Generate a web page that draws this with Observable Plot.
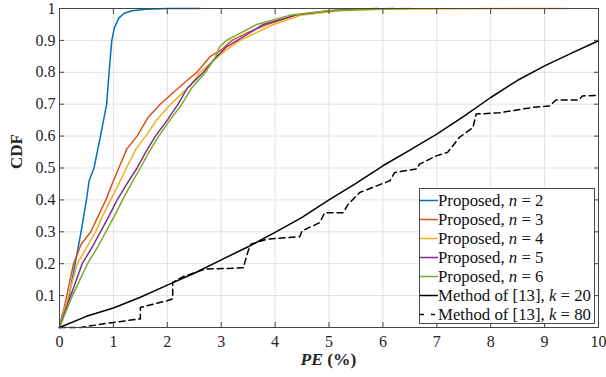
<!DOCTYPE html>
<html>
<head>
<meta charset="utf-8">
<script src="https://cdn.jsdelivr.net/npm/d3@7"></script>
<script src="https://cdn.jsdelivr.net/npm/@observablehq/plot@0.6"></script>
<style>
  body { margin: 0; background: #fff; }
  #wrap { position: relative; width: 606px; height: 377px; font-family: "Liberation Serif", "Times New Roman", serif; color: #262626; }
  #chart svg, #chart svg text { font-family: "Liberation Serif", "Times New Roman", serif !important; }
  #legend { position: absolute; left: 419px; top: 188px; width: 176px; height: 136px; background: #fff; border: 1px solid #4a4a4a; box-sizing: border-box; padding-top: 1.5px; }
  .row { display: flex; align-items: flex-start; height: 19px; font-size: 16.8px; line-height: 19px; white-space: nowrap; color: #111; }
  .row svg { flex: none; display: block; }
  #xlabel { position: absolute; left: 0; width: 657px; top: 352px; text-align: center; font-size: 17.5px; font-weight: bold; color: #262626; line-height: 15px; }
</style>
</head>
<body>
<div id="wrap">
  <div id="chart"></div>
  <div id="legend"></div>
  <div id="xlabel"><i>PE</i> (%)</div>
</div>
<script>
// ---- data ----
const xTicks = [0, 1, 2, 3, 4, 5, 6, 7, 8, 9, 10];
const yTicks = [0, 0.1, 0.2, 0.3, 0.4, 0.5, 0.6, 0.7, 0.8, 0.9, 1];

const seriesNames = ["n = 2", "n = 3", "n = 4", "n = 5", "n = 6", "k = 20", "k = 80"];
const seriesColors = ["#0072BD", "#D95319", "#EDB120", "#7E2F8E", "#77AC30", "#000000", "#000000"];

const n2X = [0, 0.05, 0.18, 0.29, 0.40, 0.50, 0.55, 0.64, 0.76, 0.875, 0.92, 0.97, 1.02, 1.1, 1.2, 1.35, 1.6, 2.0, 2.61];
const n2Y = [0, 0.04, 0.1, 0.2, 0.3, 0.4, 0.46, 0.5, 0.6, 0.7, 0.8, 0.9, 0.94, 0.97, 0.985, 0.993, 0.998, 1, 1];

const n3X = [0, 0.06, 0.135, 0.26, 0.4, 0.58, 0.72, 0.86, 1.0, 1.1, 1.25, 1.44, 1.65, 1.87, 2.1, 2.37, 2.55, 2.8, 3.0, 3.2, 3.5, 3.85, 4.4, 5.0, 5.6, 6.2];
const n3Y = [0, 0.04, 0.1, 0.2, 0.26, 0.3, 0.35, 0.4, 0.46, 0.5, 0.56, 0.6, 0.66, 0.7, 0.735, 0.775, 0.8, 0.85, 0.87, 0.9, 0.925, 0.95, 0.98, 0.993, 0.998, 1];

const n4X = [0, 0.08, 0.166, 0.33, 0.5, 0.67, 0.8, 0.95, 1.1, 1.24, 1.42, 1.6, 1.8, 2.06, 2.25, 2.43, 2.61, 2.95, 3.07, 3.35, 3.97, 4.5, 5.2, 6.0, 7.5, 9.4];
const n4Y = [0, 0.05, 0.1, 0.2, 0.25, 0.3, 0.35, 0.4, 0.45, 0.5, 0.56, 0.6, 0.65, 0.7, 0.73, 0.76, 0.8, 0.85, 0.867, 0.9, 0.95, 0.98, 0.993, 0.998, 0.9995, 1];

const n5X = [0, 0.1, 0.21, 0.42, 0.6, 0.76, 0.92, 1.07, 1.25, 1.44, 1.6, 1.78, 2.0, 2.2, 2.37, 2.67, 2.92, 3.1, 3.3, 3.78, 4.4, 5.0, 5.5, 5.9];
const n5Y = [0, 0.05, 0.1, 0.2, 0.25, 0.3, 0.35, 0.4, 0.45, 0.5, 0.55, 0.6, 0.65, 0.7, 0.75, 0.8, 0.85, 0.88, 0.9, 0.95, 0.98, 0.993, 0.998, 1];

const n6X = [0, 0.12, 0.24, 0.52, 0.7, 0.86, 1.02, 1.17, 1.33, 1.5, 1.66, 1.84, 2.05, 2.27, 2.45, 2.71, 2.9, 2.97, 3.1, 3.66, 4.3, 5.0, 5.8, 6.5];
const n6Y = [0, 0.05, 0.1, 0.2, 0.25, 0.3, 0.35, 0.4, 0.45, 0.5, 0.55, 0.6, 0.65, 0.7, 0.75, 0.8, 0.85, 0.88, 0.9, 0.95, 0.98, 0.993, 0.998, 1];

const k20X = [0, 0.5, 1.0, 1.5, 2.0, 2.5, 3.0, 3.5, 4.0, 4.5, 5.0, 5.5, 6.0, 6.5, 7.0, 7.5, 8.0, 8.5, 9.0, 9.5, 10];
const k20Y = [0, 0.035, 0.061, 0.095, 0.133, 0.17, 0.212, 0.253, 0.298, 0.345, 0.40, 0.452, 0.507, 0.556, 0.606, 0.662, 0.721, 0.775, 0.82, 0.86, 0.899];

const k80X = [0, 0.39, 0.76, 1.0, 1.5, 1.5, 2.0, 2.1, 2.1, 2.3, 2.7, 3.41, 3.5, 3.55, 3.85, 4.46, 4.5, 4.83, 4.92, 5.26, 5.36, 5.57, 5.88, 6.13, 6.22, 6.62, 6.68, 6.99, 7.2, 7.42, 7.67, 7.73, 8.16, 8.78, 9.09, 9.21, 9.64, 9.7, 10];
const k80Y = [0, 0, 0.01, 0.016, 0.027, 0.063, 0.084, 0.09, 0.141, 0.16, 0.183, 0.187, 0.24, 0.261, 0.277, 0.285, 0.303, 0.329, 0.36, 0.36, 0.387, 0.423, 0.444, 0.46, 0.486, 0.497, 0.512, 0.538, 0.549, 0.596, 0.627, 0.669, 0.673, 0.69, 0.694, 0.713, 0.713, 0.726, 0.728];

const seriesX = [n2X, n3X, n4X, n5X, n6X, k20X, k80X];
const seriesY = [n2Y, n3Y, n4Y, n5Y, n6Y, k20Y, k80Y];

// ---- build ----
const serif = '"Liberation Serif", "Times New Roman", serif';
const toRows = (xs, ys) => xs.map((x, i) => ({x, y: ys[i]}));
const lineMarks = seriesNames.map((name, i) =>
  Plot.line(toRows(seriesX[i], seriesY[i]), {
    x: "x", y: "y",
    stroke: seriesColors[i],
    strokeWidth: 1.5,
    strokeDasharray: i === 6 ? "6,4" : null
  })
);

const fmtY = d => d === 1 ? "1" : d.toFixed(1);

const chart = Plot.plot({
  width: 606,
  height: 377,
  marginLeft: 59,
  marginRight: 8,
  marginTop: 8,
  marginBottom: 50,
  style: {fontFamily: serif, fontSize: "16px", color: "#262626", background: "#fff"},
  x: {domain: [0, 10], label: null},
  y: {domain: [0, 1], label: null},
  marks: [
    Plot.gridX(xTicks, {stroke: "#e2e2e2", strokeOpacity: 1}),
    Plot.gridY(yTicks, {stroke: "#e2e2e2", strokeOpacity: 1}),
    ...lineMarks,
    Plot.frame({stroke: "#454545", strokeWidth: 1}),
    Plot.axisX(xTicks, {anchor: "bottom", tickSize: 0, tickPadding: 8, label: null, fontSize: 16, fontFamily: serif}),
    Plot.axisX(xTicks, {anchor: "bottom", tickSize: -5, tickFormat: () => "", label: null, stroke: "#454545"}),
    Plot.axisX(xTicks, {anchor: "top", tickSize: -5, tickFormat: () => "", label: null, stroke: "#454545"}),
    Plot.axisY(yTicks.slice(1), {anchor: "left", tickSize: 0, tickPadding: 4, tickFormat: fmtY, label: null, fontSize: 16, fontFamily: serif}),
    Plot.axisY(yTicks, {anchor: "left", tickSize: -5, tickFormat: () => "", label: null, stroke: "#454545"}),
    Plot.axisY(yTicks, {anchor: "right", tickSize: -5, tickFormat: () => "", label: null, stroke: "#454545"}),
    Plot.text(["CDF"], {frameAnchor: "left", dx: -43, dy: 1, rotate: -90, text: d => d, fontWeight: "bold", fontSize: 17, fontFamily: serif, fill: "#262626"})
  ]
});
document.getElementById("chart").appendChild(chart);

// ---- legend ----
const legend = document.getElementById("legend");
seriesNames.forEach((name, i) => {
  const row = document.createElement("div");
  row.className = "row";
  const [v, num] = name.split(" = ");
  const prefix = i < 5 ? "Proposed, " : "Method of [13], ";
  const dash = i === 6 ? 'stroke-dasharray="4,7"' : "";
  row.innerHTML = `<svg width="18" height="19"><line x1="0" x2="18" y1="9.5" y2="9.5" stroke="${seriesColors[i]}" stroke-width="1.5" ${dash}/></svg><span>${prefix}<i>${v}</i> = ${num}</span>`;
  legend.appendChild(row);
});
</script>
</body>
</html>
